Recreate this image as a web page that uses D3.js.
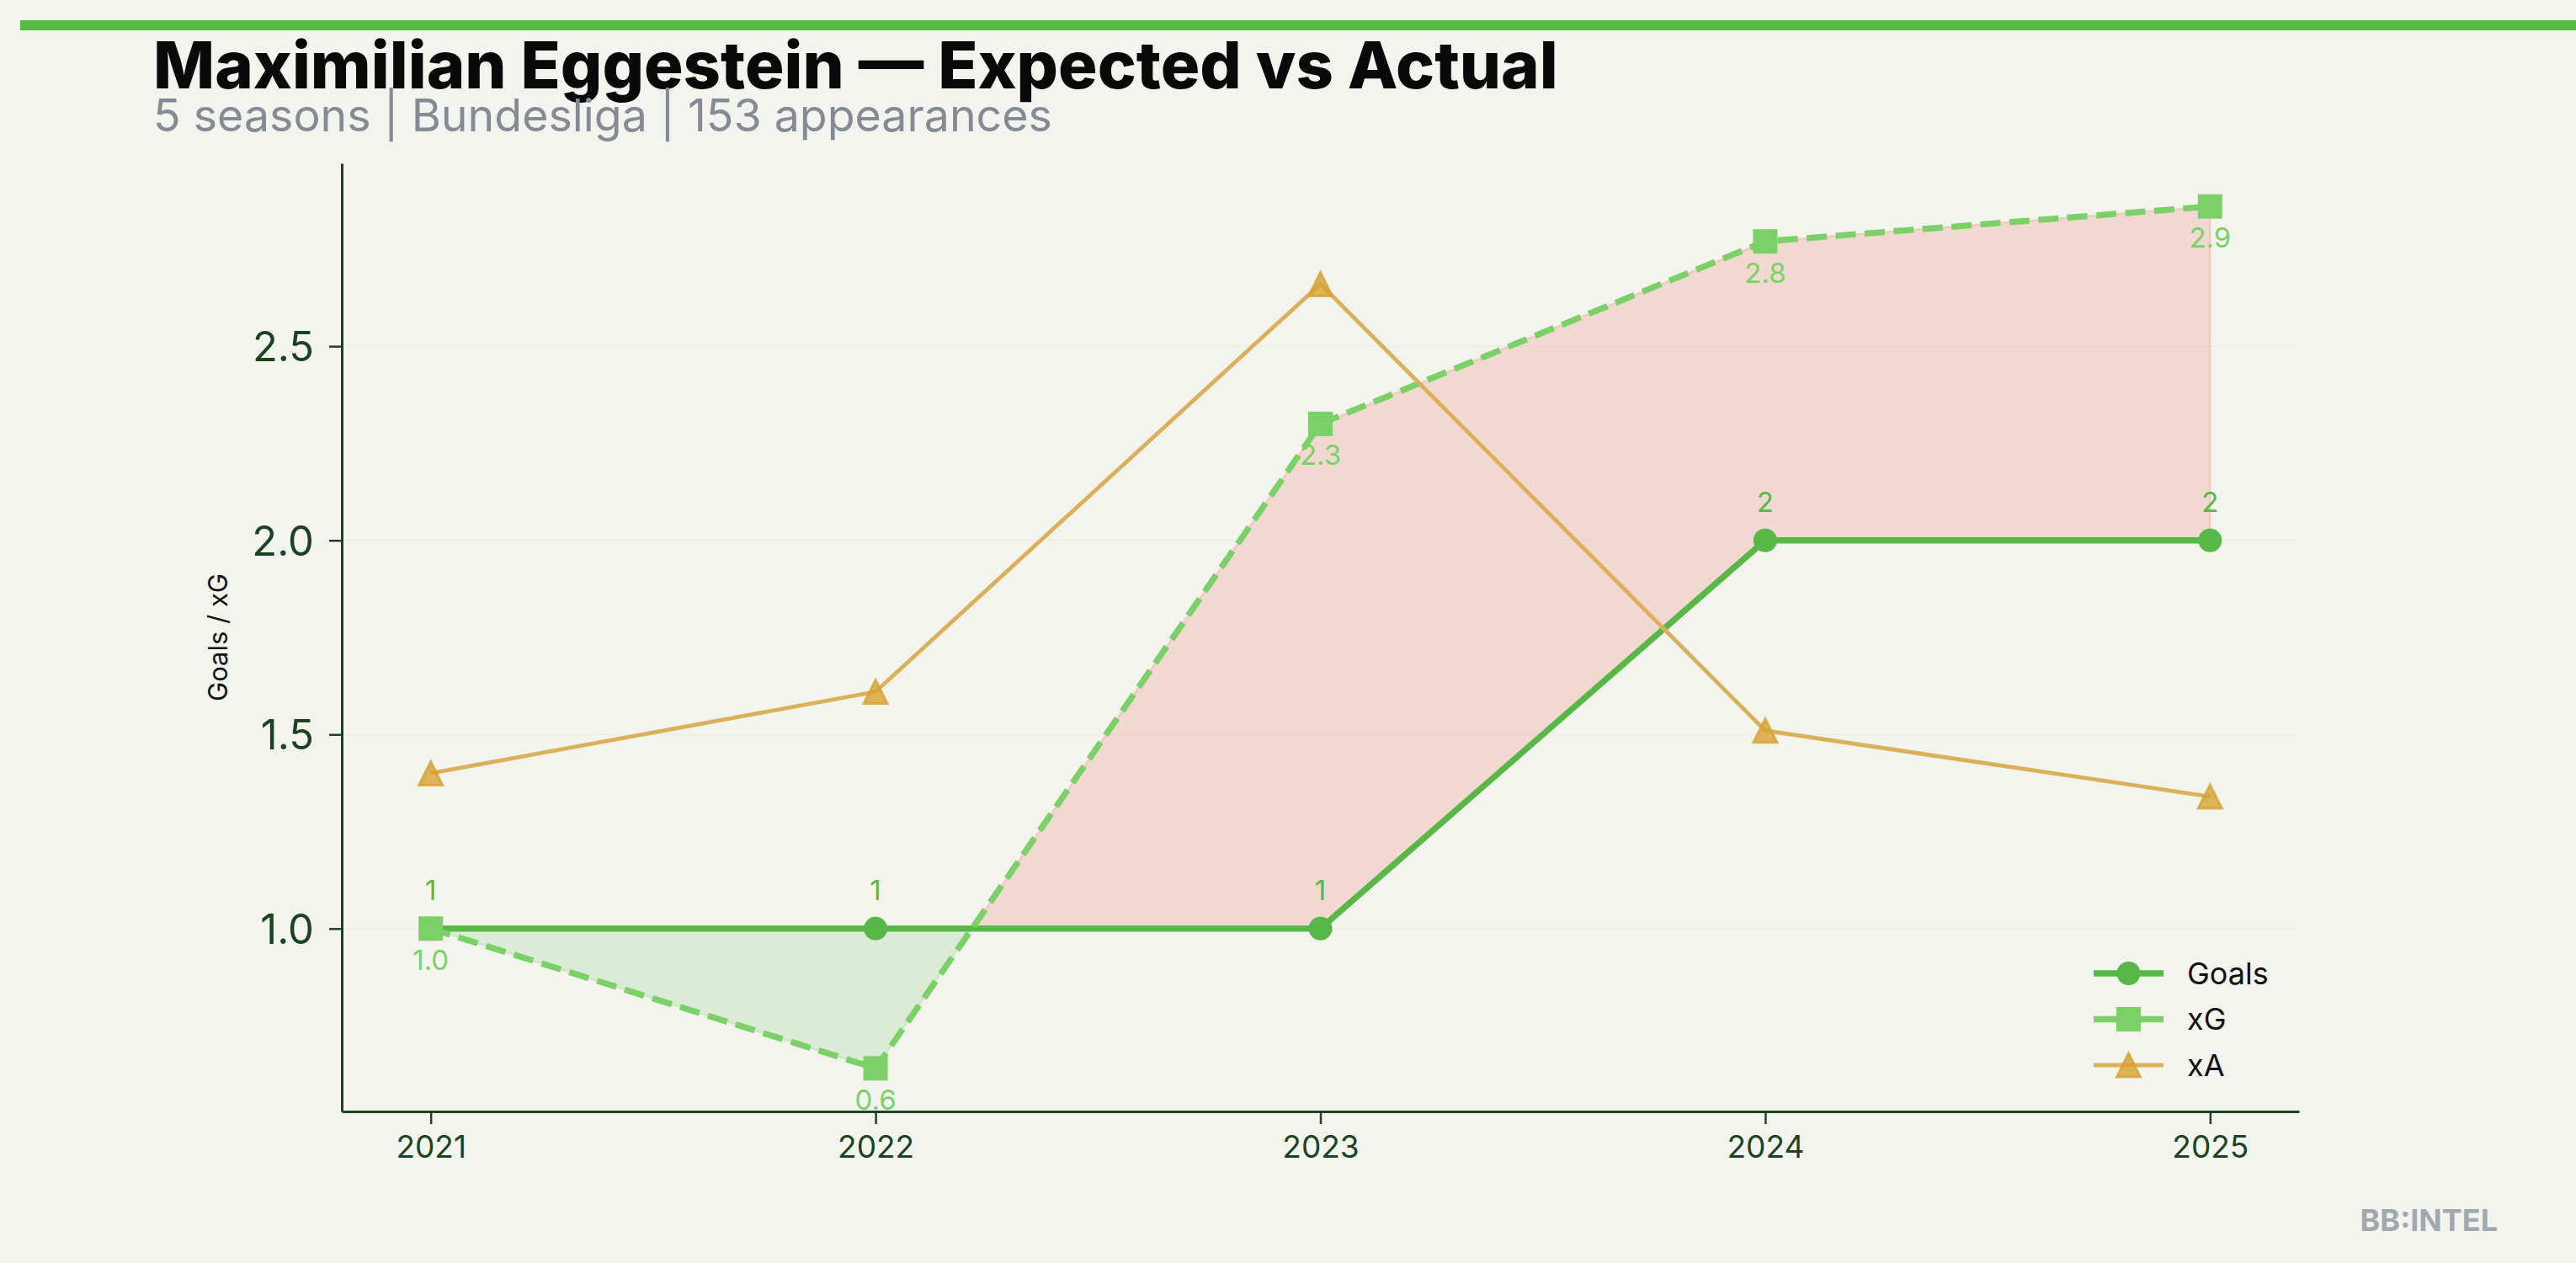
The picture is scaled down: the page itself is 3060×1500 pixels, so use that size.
<!DOCTYPE html>
<html><head><meta charset="utf-8">
<script src="https://cdn.jsdelivr.net/npm/d3@7"></script>
<style>html,body{margin:0;padding:0;background:#f3f4ee;} svg{display:block}</style>
</head><body><svg id="c" width="3060" height="1500"></svg>
<script>
// ---------- data ----------
const seasons = [2021, 2022, 2023, 2024, 2025];
const goals = [1, 1, 1, 2, 2];
const xG = [1.0, 0.64, 2.30, 2.77, 2.86];
const xA = [1.40, 1.61, 2.66, 1.51, 1.34];
const goalLabels = ["1", "1", "1", "2", "2"];
const xGLabels = ["1.0", "0.6", "2.3", "2.8", "2.9"];
const yTicks = [1.0, 1.5, 2.0, 2.5];
const seriesNames = ["Goals", "xG", "xA"];
const titleText = "Maximilian Eggestein — Expected vs Actual";
const subtitleText = "5 seasons | Bundesliga | 153 appearances";
const yLabelText = "Goals / xG";
const brandText = "BB:INTEL";

// ---------- style ----------
const BG = "#f3f4ee", AX = "#1b4322";
const C_GOALS = "#57b847", C_XG = "#7bd168", C_XA = "#dbb05a";
const FONT = "Inter, 'Noto Sans', sans-serif";

const svg = d3.select("#c");
svg.append("rect").attr("width", 3060).attr("height", 1500).attr("fill", BG);

// top bar
svg.append("rect").attr("x", 24).attr("y", 24).attr("width", 3036).attr("height", 12).attr("fill", "#58b947");

// scales
const L = 406, R = 2731, T = 194, B = 1320;
const x = d3.scaleLinear().domain([seasons[0] - 0.2, seasons[seasons.length - 1] + 0.2]).range([L, R]);
const allY = goals.concat(xG);
const ymin = d3.min(allY), ymax = d3.max(allY), pad = (ymax - ymin) * 0.05;
const y = d3.scaleLinear().domain([ymin - pad, ymax + pad]).range([B, T]);

// title
const title = svg.append("text").attr("x", 182).attr("y", 105).text(titleText)
  .attr("font-family", FONT).attr("font-weight", 800).attr("font-size", 80).attr("fill", "#070a08");
{
  const w = title.node().getComputedTextLength();
  const target = 1669;
  title.attr("font-size", 80 * Math.max(0.85, Math.min(1.15, target / w)));
}
const sub = svg.append("text").attr("x", 182).attr("y", 156).text(subtitleText)
  .attr("font-family", FONT).attr("font-size", 50).attr("fill", "#858b94");
{
  const w = sub.node().getComputedTextLength();
  sub.attr("font-size", 50 * Math.max(0.9, Math.min(1.12, 1068 / w)));
}

// gridlines
svg.append("g").selectAll("line").data(yTicks).join("line")
  .attr("x1", L).attr("x2", R).attr("y1", d => y(d)).attr("y2", d => y(d))
  .attr("stroke", "#ebede6").attr("stroke-width", 1.5);

// fill between
const pts = [];
for (let i = 0; i < seasons.length; i++) {
  pts.push({ x: seasons[i], g: goals[i], e: xG[i] });
  if (i < seasons.length - 1) {
    const d0 = xG[i] - goals[i], d1 = xG[i + 1] - goals[i + 1];
    if (d0 * d1 < 0) {
      const t = d0 / (d0 - d1);
      const xc = seasons[i] + t * (seasons[i + 1] - seasons[i]);
      const gc = goals[i] + t * (goals[i + 1] - goals[i]);
      pts.push({ x: xc, g: gc, e: gc });
    }
  }
}
function runs(sign) {
  const out = []; let cur = [];
  pts.forEach(p => {
    const d = (p.e - p.g) * sign;
    if (d >= -1e-9) cur.push(p); else { if (cur.length > 1) out.push(cur); cur = []; }
  });
  if (cur.length > 1) out.push(cur);
  return out;
}
const area = d3.area().x(d => x(d.x)).y0(d => y(d.g)).y1(d => y(d.e));
const fills = svg.append("g");
runs(1).forEach(r => fills.append("path").attr("d", area(r) + "Z")
  .attr("fill", "rgba(231,76,60,0.16)").attr("stroke", "rgba(231,76,60,0.16)").attr("stroke-width", 2.5));
runs(-1).forEach(r => fills.append("path").attr("d", area(r) + "Z")
  .attr("fill", "rgba(90,185,74,0.15)").attr("stroke", "rgba(90,185,74,0.15)").attr("stroke-width", 2.5));

// axes
const yAxis = svg.append("g").attr("transform", `translate(${L},0)`)
  .call(d3.axisLeft(y).tickValues(yTicks).tickFormat(d3.format(".1f")).tickSize(15).tickSizeOuter(0).tickPadding(18));
const xAxis = svg.append("g").attr("transform", `translate(0,${B})`)
  .call(d3.axisBottom(x).tickValues(seasons).tickFormat(d3.format("d")).tickSize(15).tickSizeOuter(0).tickPadding(14));
[yAxis, xAxis].forEach(a => {
  a.select(".domain").attr("stroke", AX).attr("stroke-width", 3);
  a.selectAll(".tick line").attr("stroke", AX).attr("stroke-width", 2.5);
  a.selectAll(".tick text").attr("fill", AX).attr("font-family", FONT);
});
yAxis.selectAll(".tick text").attr("font-size", 49).attr("dy", "0.36em");
xAxis.selectAll(".tick text").attr("font-size", 37);

svg.append("text").attr("transform", `translate(270,${(T + B) / 2}) rotate(-90)`)
  .attr("text-anchor", "middle").attr("font-family", FONT).attr("font-size", 31).attr("fill", "#111")
  .text(yLabelText);

// lines
const line = d3.line().x((d, i) => x(seasons[i])).y(d => y(d));
const tri = s => `M0,${-s / 2}L${s / 2},${s / 2}L${-s / 2},${s / 2}Z`;

// Goals
svg.append("path").attr("d", line(goals)).attr("fill", "none").attr("stroke", C_GOALS).attr("stroke-width", 7.3).attr("stroke-linejoin", "round");
svg.append("g").selectAll("circle").data(goals).join("circle")
  .attr("cx", (d, i) => x(seasons[i])).attr("cy", d => y(d)).attr("r", 14).attr("fill", C_GOALS);

// xG
svg.append("path").attr("d", line(xG)).attr("fill", "none").attr("stroke", C_XG).attr("stroke-width", 7.3).attr("stroke-dasharray", "24,10.5");
svg.append("g").selectAll("rect").data(xG).join("rect")
  .attr("x", (d, i) => x(seasons[i]) - 14.5).attr("y", d => y(d) - 14.5).attr("width", 29).attr("height", 29).attr("fill", C_XG);

// xA
svg.append("path").attr("d", line(xA)).attr("fill", "none").attr("stroke", C_XA).attr("stroke-width", 4.8);
svg.append("g").selectAll("path").data(xA).join("path")
  .attr("transform", (d, i) => `translate(${x(seasons[i])},${y(d)})`).attr("d", tri(28))
  .attr("fill", "rgba(214,162,50,0.8)").attr("stroke", "rgba(214,162,50,0.8)").attr("stroke-width", 3);

// labels
svg.append("g").selectAll("text").data(goalLabels).join("text")
  .attr("x", (d, i) => x(seasons[i])).attr("y", (d, i) => y(goals[i]) - 34)
  .attr("text-anchor", "middle").attr("font-family", FONT).attr("font-size", 33).attr("fill", C_GOALS).text(d => d);
svg.append("g").selectAll("text").data(xGLabels).join("text")
  .attr("x", (d, i) => x(seasons[i])).attr("y", (d, i) => y(xG[i]) + 49)
  .attr("text-anchor", "middle").attr("font-family", FONT).attr("font-size", 33).attr("fill", C_XG).text(d => d);

// legend
const lg = svg.append("g").attr("transform", "translate(2487,1156)");
const rowH = 54.5;
seriesNames.forEach((name, i) => {
  const g = lg.append("g").attr("transform", `translate(0,${i * rowH})`);
  const col = [C_GOALS, C_XG, C_XA][i];
  g.append("line").attr("x1", 0).attr("x2", 83).attr("stroke", col).attr("stroke-width", [7.3, 7.3, 4.8][i]);
  if (i === 0) g.append("circle").attr("cx", 41.5).attr("r", 14).attr("fill", C_GOALS);
  if (i === 1) g.append("rect").attr("x", 27).attr("y", -14.5).attr("width", 29).attr("height", 29).attr("fill", C_XG);
  if (i === 2) g.append("path").attr("transform", "translate(41.5,0)").attr("d", tri(28))
    .attr("fill", "rgba(214,162,50,0.8)").attr("stroke", "rgba(214,162,50,0.8)").attr("stroke-width", 3);
  g.append("text").attr("x", 111).attr("dy", "0.36em").attr("font-family", FONT).attr("font-size", 36).attr("fill", "#111").text(name);
});

// brand
svg.append("text").attr("x", 2967).attr("y", 1462).attr("text-anchor", "end")
  .attr("font-family", FONT).attr("font-weight", 700).attr("font-size", 36).attr("fill", "#a3a7ae").text(brandText);
</script></body></html>
